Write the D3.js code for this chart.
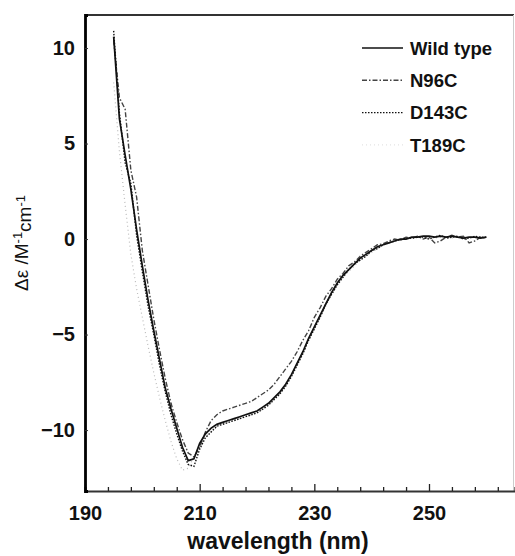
<!DOCTYPE html>
<html>
<head>
<meta charset="utf-8">
<script src="https://cdn.jsdelivr.net/npm/d3@7"></script>
<style>
  body { margin: 0; background: #fff; }
  text { font-family: "Liberation Sans", Arial, sans-serif; }
</style>
</head>
<body>
<div id="chart"></div>
<script>
// Data
var wavelength = [195,196,197,198,199,200,201,202,203,204,205,206,207,208,209,210,
  211,212,213,214,215,216,217,218,219,220,221,222,223,224,225,226,227,228,229,230,
  231,232,233,234,235,236,237,238,239,240,241,242,243,244,245,246,247,248,249,250,
  251,252,253,254,255,256,257,258,259,260];

var wildType = [10.6,6.3,4.4,2.6,0.5,-1.4,-3.2,-4.8,-6.3,-7.8,-8.9,-9.9,-10.9,-11.6,-11.5,-10.7,
  -10.2,-9.9,-9.7,-9.6,-9.5,-9.4,-9.3,-9.2,-9.1,-9.0,-8.8,-8.6,-8.3,-8.0,-7.6,-7.1,-6.5,-5.9,-5.2,-4.6,
  -4.0,-3.4,-2.8,-2.3,-1.9,-1.6,-1.3,-1.0,-0.8,-0.6,-0.4,-0.3,-0.2,-0.1,0.0,0.0,0.1,0.1,0.15,0.15,
  0.1,0.15,0.1,0.15,0.1,0.05,0.1,0.1,0.05,0.1];

var n96c = [10.4,7.4,6.8,3.6,2.2,-0.6,-2.4,-4.2,-5.8,-7.3,-8.6,-9.6,-10.5,-11.2,-11.4,-10.9,
  -10.1,-9.5,-9.2,-9.0,-8.9,-8.8,-8.7,-8.6,-8.5,-8.3,-8.1,-7.9,-7.6,-7.2,-6.8,-6.4,-5.9,-5.3,-4.8,-4.1,
  -3.6,-3.0,-2.6,-2.1,-1.8,-1.4,-1.2,-0.9,-0.7,-0.5,-0.3,-0.25,-0.1,0.0,-0.05,0.1,0.05,0.15,0.0,0.1,
  -0.2,-0.1,0.1,0.2,0.1,0.15,-0.2,-0.1,0.1,0.05];

var d143c = [10.9,6.6,4.0,2.9,0.2,-1.7,-3.5,-5.0,-6.6,-8.0,-9.2,-10.2,-11.1,-11.8,-11.9,-11.0,
  -10.4,-10.1,-9.8,-9.7,-9.6,-9.5,-9.4,-9.3,-9.2,-9.1,-8.9,-8.7,-8.4,-8.1,-7.7,-7.2,-6.6,-6.0,-5.3,-4.7,
  -4.1,-3.4,-2.9,-2.4,-2.0,-1.6,-1.3,-1.1,-0.9,-0.6,-0.5,-0.3,-0.2,-0.1,-0.05,0.05,0.05,0.1,0.1,0.0,
  0.1,0.2,0.05,0.1,0.15,0.0,0.05,0.15,0.1,0.1];

var t189c = [8.2,4.6,1.8,-0.8,-2.6,-4.1,-5.6,-7.0,-8.3,-9.5,-10.6,-11.5,-12.1,-12.0,-11.4,-10.8,
  -10.3,-10.0,-9.8,-9.7,-9.6,-9.5,-9.4,-9.3,-9.2,-9.1,-8.9,-8.7,-8.4,-8.1,-7.7,-7.2,-6.6,-6.0,-5.3,-4.7,
  -4.1,-3.5,-2.9,-2.4,-2.0,-1.7,-1.4,-1.1,-0.9,-0.7,-0.5,-0.3,-0.2,-0.1,-0.05,0.0,0.05,0.1,0.05,0.1,
  0.05,0.1,0.1,0.05,0.1,0.05,0.1,0.05,0.1,0.05];

var seriesNames = ["Wild type", "N96C", "D143C", "T189C"];
var xTicks = [190,194,198,202,206,210,214,218,222,226,230,234,238,242,246,250,254,258,262];
var xLabels = [190, 210, 230, 250];
var yTicks = [-10, -5, 0, 5, 10];

var width = 515, height = 556;
var svg = d3.select("#chart").append("svg")
    .attr("width", width).attr("height", height);

var x = d3.scaleLinear().domain([190, 265]).range([85, 515]);
var y = d3.scaleLinear().domain([-13.19, 11.73]).range([491, 15]);

var styles = [
  { stroke: "#111", dash: null, w: 1.7 },
  { stroke: "#444", dash: "5,2,1.5,2", w: 1.4 },
  { stroke: "#111", dash: "1.5,1.5", w: 1.4 },
  { stroke: "#bbb", dash: "1,3", w: 1.2 }
];
var allSeries = [wildType, n96c, d143c, t189c];

// frame
svg.append("line").attr("x1", 85).attr("x2", 514).attr("y1", 15).attr("y2", 15)
    .attr("stroke", "#333").attr("stroke-width", 2);
svg.append("line").attr("x1", 513.5).attr("x2", 513.5).attr("y1", 15).attr("y2", 491)
    .attr("stroke", "#ccc").attr("stroke-width", 1);

// curves (draw faint first)
var line = d3.line()
    .x(function(d) { return x(d[0]); })
    .y(function(d) { return y(d[1]); });

[3, 1, 2, 0].forEach(function(i) {
  var pts = wavelength.map(function(w, j) { return [w, allSeries[i][j]]; });
  svg.append("path")
      .datum(pts)
      .attr("d", line)
      .attr("fill", "none")
      .attr("stroke", styles[i].stroke)
      .attr("stroke-width", styles[i].w)
      .attr("stroke-dasharray", styles[i].dash);
});

// bottom axis, ticks pointing inward
var xAxis = svg.append("g")
    .attr("transform", "translate(0,491)")
    .call(d3.axisBottom(x).tickValues(xTicks).tickSize(-4).tickPadding(15)
      .tickFormat(function(d) { return xLabels.indexOf(d) >= 0 ? d : ""; }));
xAxis.select(".domain").attr("stroke", "#333").attr("stroke-width", 2.2);
xAxis.selectAll(".tick line").attr("stroke", "#222").attr("stroke-width", 1.3)
    .attr("y2", function(d) { return xLabels.indexOf(d) >= 0 ? -7 : -4; });
xAxis.selectAll(".tick text")
    .attr("font-size", "20px").attr("font-weight", "bold").attr("fill", "#111");

// left axis
var yAxis = svg.append("g")
    .attr("transform", "translate(85,0)")
    .call(d3.axisLeft(y).tickValues(yTicks).tickSize(-3).tickPadding(10));
yAxis.select(".domain").attr("stroke", "#000").attr("stroke-width", 2.8);
yAxis.selectAll(".tick line").attr("stroke", "#333");
yAxis.selectAll(".tick text")
    .attr("font-size", "20px").attr("font-weight", "bold").attr("fill", "#111");

// axis titles
svg.append("text")
    .attr("x", 278).attr("y", 549)
    .attr("text-anchor", "middle")
    .attr("font-size", "23px").attr("font-weight", "bold").attr("fill", "#111")
    .text("wavelength (nm)");

var yt = svg.append("text")
    .attr("transform", "translate(28,243) rotate(-90)")
    .attr("text-anchor", "middle")
    .attr("font-size", "19px").attr("fill", "#111");
yt.append("tspan").text("\u0394\u03b5 /M");
yt.append("tspan").attr("dy", "-0.45em").attr("font-size", "13px").text("-1");
yt.append("tspan").attr("dy", "0.45em").text("cm");
yt.append("tspan").attr("dy", "-0.45em").attr("font-size", "13px").text("-1");

// legend
var legend = svg.selectAll(".legend")
    .data(seriesNames).enter()
    .append("g").attr("class", "legend")
    .attr("transform", function(d, i) { return "translate(0," + (48 + i * 32.3) + ")"; });

legend.append("line")
    .attr("x1", 362).attr("x2", 403).attr("y1", 0).attr("y2", 0)
    .attr("stroke", function(d, i) { return i == 3 ? "#e4e4e4" : styles[i].stroke; })
    .attr("stroke-width", function(d, i) { return styles[i].w; })
    .attr("stroke-dasharray", function(d, i) { return styles[i].dash; });

legend.append("text")
    .attr("x", 410).attr("y", 0).attr("dy", "0.36em")
    .attr("font-size", "18.5px").attr("font-weight", "bold").attr("fill", "#111")
    .text(function(d) { return d; });
</script>
</body>
</html>
